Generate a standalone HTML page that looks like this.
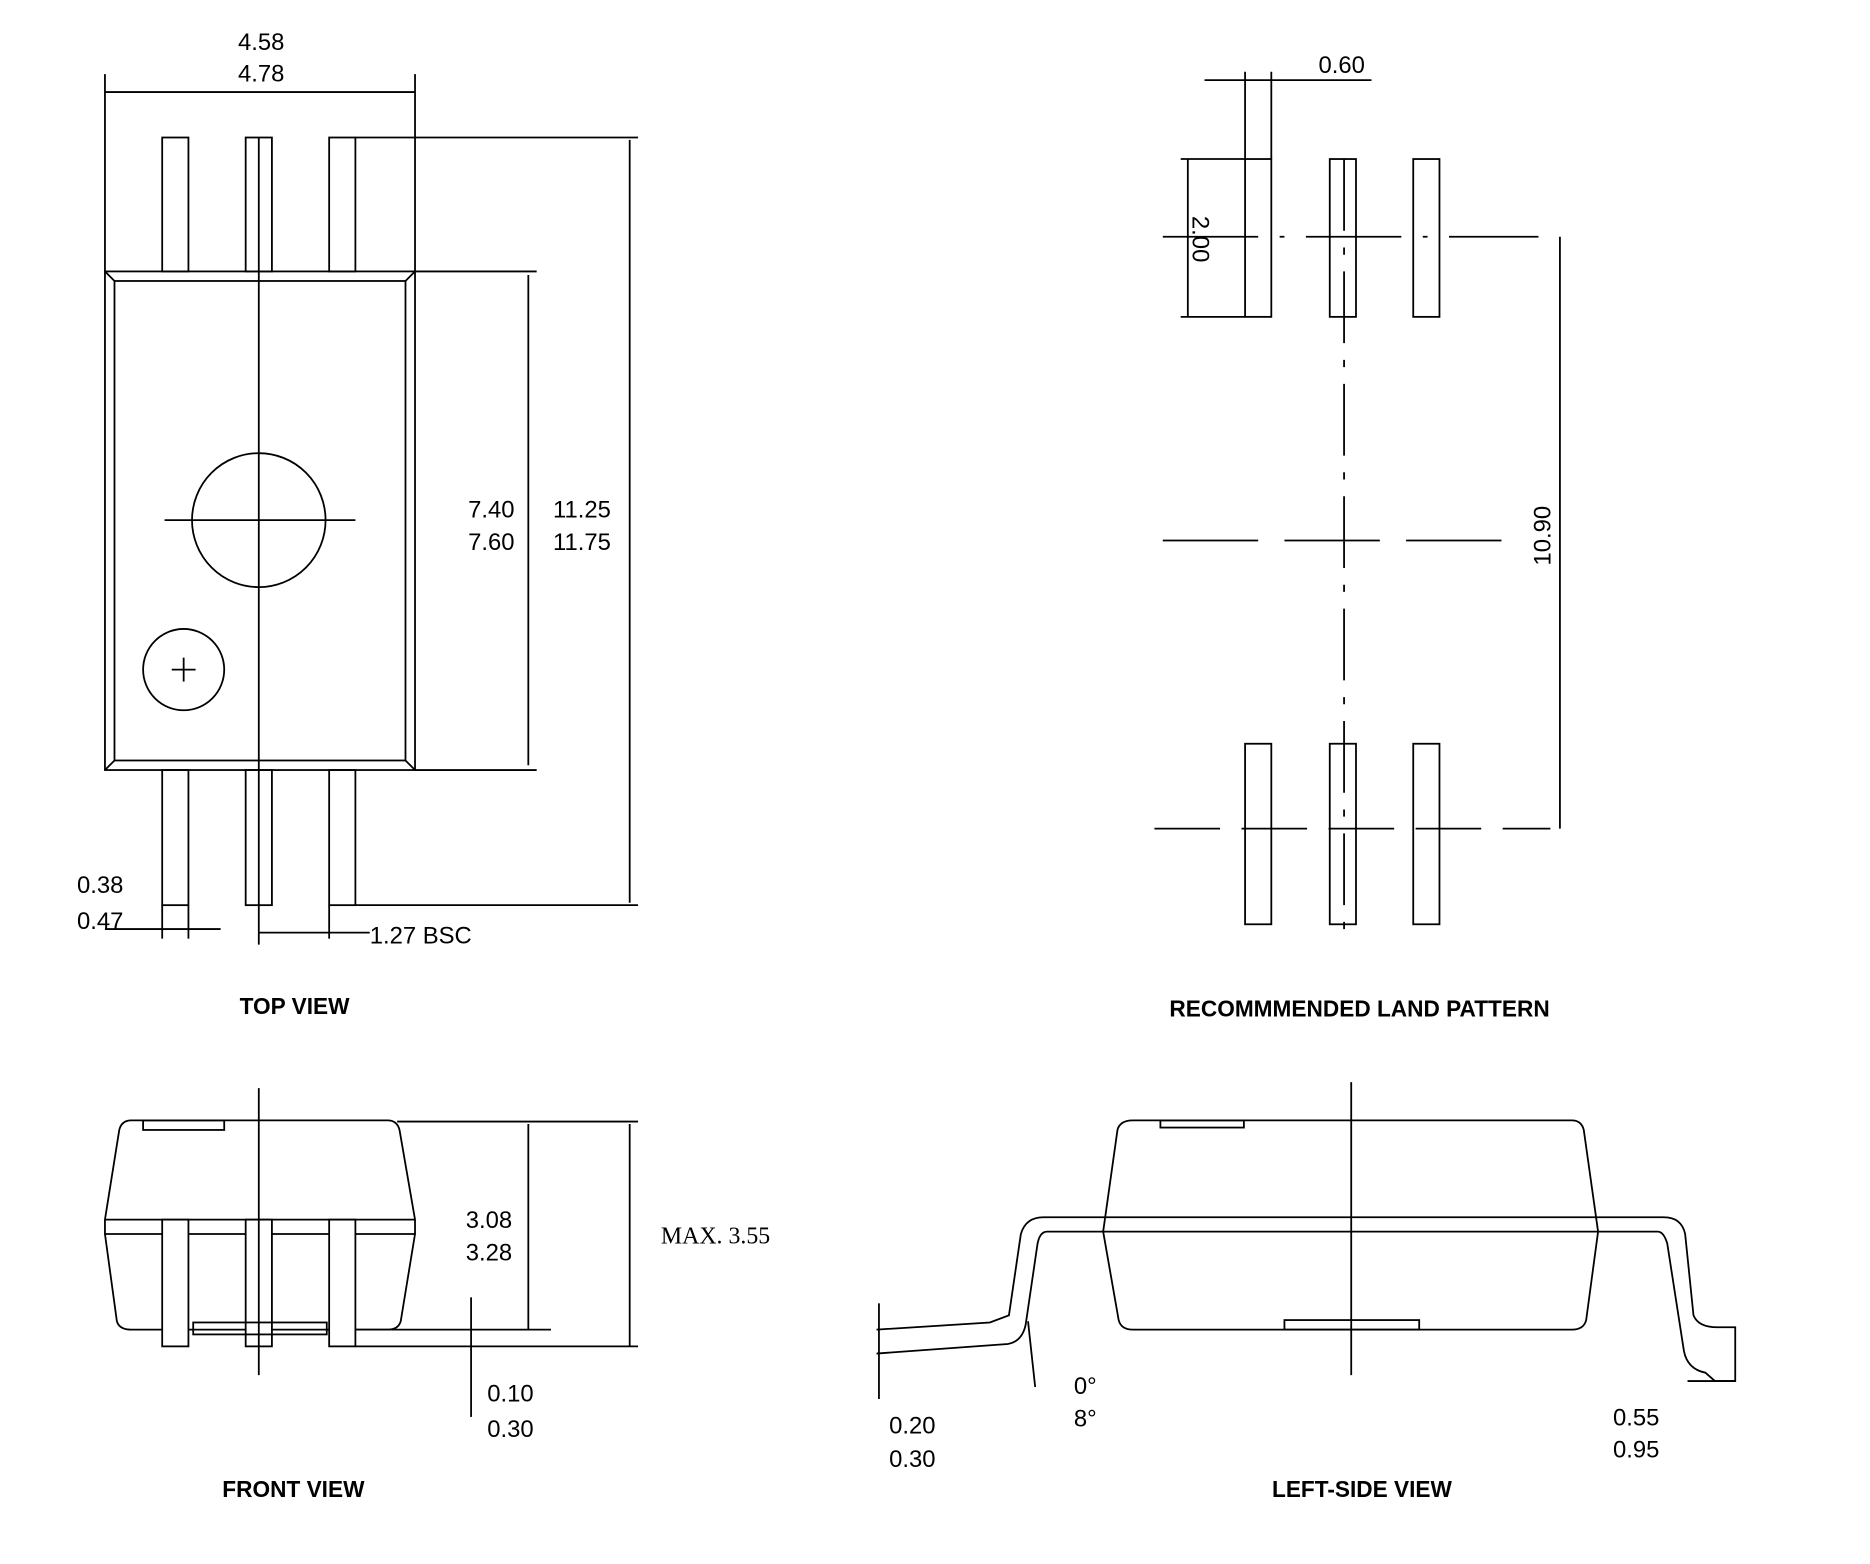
<!DOCTYPE html>
<html><head><meta charset="utf-8"><style>
html,body{margin:0;padding:0;background:#fff;}
svg{display:block;}
text{font-family:"Liberation Sans",sans-serif;font-size:20px;fill:#000;}
.t{font-weight:bold;font-size:19px;}
.s{font-family:"Liberation Serif",serif;}
</style></head><body>
<svg width="1870" height="1564" viewBox="0 0 1568 1308" preserveAspectRatio="none" fill="none" stroke="#000" stroke-width="1.5">
<!-- TOP VIEW -->
<rect x="88" y="227" width="260" height="417"/>
<rect x="96" y="235" width="244" height="401"/>
<line x1="88" y1="227" x2="96" y2="235"/><line x1="348" y1="227" x2="340" y2="235"/>
<line x1="88" y1="644" x2="96" y2="636"/><line x1="348" y1="644" x2="340" y2="636"/>
<rect x="136" y="115" width="22" height="112"/><rect x="206" y="115" width="22" height="112"/><rect x="276" y="115" width="22" height="112"/>
<rect x="136" y="644" width="22" height="113"/><rect x="206" y="644" width="22" height="113"/><rect x="276" y="644" width="22" height="113"/>
<line x1="217" y1="115" x2="217" y2="790"/>
<circle cx="217" cy="435" r="56"/><line x1="138" y1="435" x2="298" y2="435"/>
<circle cx="154" cy="560" r="34"/><line x1="144" y1="560" x2="164" y2="560"/><line x1="154" y1="550" x2="154" y2="570"/>
<line x1="88" y1="62" x2="88" y2="227"/><line x1="348" y1="62" x2="348" y2="227"/>
<line x1="88" y1="77" x2="348" y2="77"/>
<line x1="348" y1="227" x2="450" y2="227"/><line x1="348" y1="644" x2="450" y2="644"/>
<line x1="443" y1="230" x2="443" y2="640"/>
<line x1="298" y1="115" x2="535" y2="115"/><line x1="298" y1="757" x2="535" y2="757"/>
<line x1="528" y1="117" x2="528" y2="755"/>
<line x1="136" y1="757" x2="136" y2="785"/><line x1="158" y1="757" x2="158" y2="785"/>
<line x1="88" y1="777" x2="185" y2="777"/>
<line x1="276" y1="757" x2="276" y2="785"/>
<line x1="217" y1="780" x2="310" y2="780"/>
<!-- LAND PATTERN -->
<rect x="1044" y="133" width="22" height="132"/><rect x="1115" y="133" width="22" height="132"/><rect x="1185" y="133" width="22" height="132"/>
<rect x="1044" y="622" width="22" height="151"/><rect x="1115" y="622" width="22" height="151"/><rect x="1185" y="622" width="22" height="151"/>
<line x1="1127" y1="133" x2="1127" y2="780" stroke-dasharray="60,14,6,14"/>
<line x1="975" y1="198" x2="1290" y2="198" stroke-dasharray="80,18,4,18"/>
<line x1="975" y1="452" x2="1265" y2="452" stroke-dasharray="80,22"/>
<line x1="968" y1="693" x2="1300" y2="693" stroke-dasharray="55,18"/>
<line x1="1044" y1="60" x2="1044" y2="133"/><line x1="1066" y1="60" x2="1066" y2="133"/>
<line x1="1010" y1="67" x2="1150" y2="67"/>
<line x1="990" y1="133" x2="1044" y2="133"/><line x1="990" y1="265" x2="1044" y2="265"/>
<line x1="996" y1="133" x2="996" y2="265"/>
<line x1="1308" y1="198" x2="1308" y2="693"/>
<!-- FRONT VIEW -->
<path d="M110,937 L325,937 Q333,937 335,945 L348,1020 L348,1032 L336,1105 Q334,1112 325,1112 L110,1112 Q100,1112 98,1105 L88,1032 L88,1020 L100,945 Q102,937 110,937 Z"/>
<line x1="88" y1="1020" x2="348" y2="1020"/><line x1="88" y1="1032" x2="348" y2="1032"/>
<rect x="120" y="937" width="68" height="8"/>
<rect x="136" y="1020" width="22" height="106" fill="#fff"/><rect x="206" y="1020" width="22" height="106" fill="#fff"/><rect x="276" y="1020" width="22" height="106" fill="#fff"/>
<rect x="162" y="1106" width="112" height="10"/>
<line x1="217" y1="910" x2="217" y2="1150"/>
<line x1="333" y1="938" x2="535" y2="938"/><line x1="298" y1="1112" x2="462" y2="1112"/><line x1="298" y1="1126" x2="535" y2="1126"/>
<line x1="443" y1="940" x2="443" y2="1112"/><line x1="528" y1="940" x2="528" y2="1126"/>
<line x1="395" y1="1085" x2="395" y2="1185"/>
<!-- LEFT-SIDE VIEW -->
<path d="M950,937 L1318,937 Q1326,937 1328,945 L1340,1030 L1330,1104 Q1328,1112 1318,1112 L950,1112 Q940,1112 938,1104 L925,1030 L937,945 Q939,937 950,937 Z"/>
<rect x="973" y="937" width="70" height="6"/><rect x="1077" y="1104" width="113" height="8"/>
<line x1="1133" y1="905" x2="1133" y2="1150"/>
<path d="M735,1112 L830,1106 L846,1100 L856,1032 Q860,1018 875,1018 L1395,1018 Q1410,1018 1413,1032 L1420,1100 Q1424,1110 1440,1110 L1455,1110 L1455,1155 L1438,1155 L1430,1148 Q1415,1145 1412,1130 L1398,1040 Q1395,1030 1390,1030 L878,1030 Q872,1030 870,1040 L860,1108 Q857,1122 845,1124 L735,1132"/>
<line x1="737" y1="1090" x2="737" y2="1170"/>
<line x1="862" y1="1105" x2="868" y2="1160"/>
<line x1="1415" y1="1155" x2="1455" y2="1155"/>
<g stroke="none" fill="#000">
<text x="219" y="42" text-anchor="middle">4.58</text><text x="219" y="68" text-anchor="middle">4.78</text>
<text x="412" y="433" text-anchor="middle">7.40</text><text x="412" y="460" text-anchor="middle">7.60</text>
<text x="488" y="433" text-anchor="middle">11.25</text><text x="488" y="460" text-anchor="middle">11.75</text>
<text x="84" y="747" text-anchor="middle">0.38</text><text x="84" y="777" text-anchor="middle">0.47</text>
<text x="310" y="789">1.27 BSC</text>
<text class="t" x="247" y="848" text-anchor="middle">TOP VIEW</text>
<text x="1125" y="61" text-anchor="middle">0.60</text>
<text x="1000" y="200" transform="rotate(90 1000 200)" text-anchor="middle">2.00</text>
<text x="1300" y="448" transform="rotate(-90 1300 448)" text-anchor="middle">10.90</text>
<text class="t" x="1140" y="850" text-anchor="middle">RECOMMMENDED LAND PATTERN</text>
<text x="410" y="1027" text-anchor="middle">3.08</text><text x="410" y="1054" text-anchor="middle">3.28</text>
<text class="s" x="600" y="1040" text-anchor="middle">MAX. 3.55</text>
<text x="428" y="1172" text-anchor="middle">0.10</text><text x="428" y="1202" text-anchor="middle">0.30</text>
<text class="t" x="246" y="1252" text-anchor="middle">FRONT VIEW</text>
<text x="765" y="1199" text-anchor="middle">0.20</text><text x="765" y="1227" text-anchor="middle">0.30</text>
<text x="910" y="1166" text-anchor="middle">0°</text><text x="910" y="1193" text-anchor="middle">8°</text>
<text x="1372" y="1192" text-anchor="middle">0.55</text><text x="1372" y="1219" text-anchor="middle">0.95</text>
<text class="t" x="1142" y="1252" text-anchor="middle">LEFT-SIDE VIEW</text>
</g>
</svg>
</body></html>
